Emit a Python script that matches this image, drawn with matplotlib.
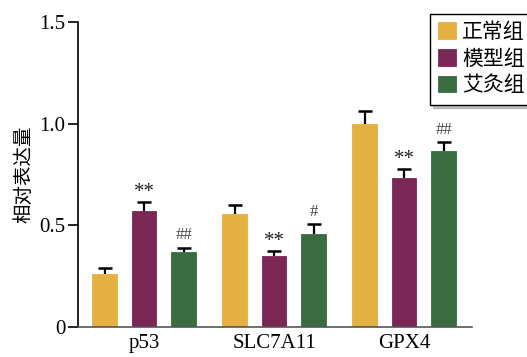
import matplotlib
matplotlib.use("Agg")
import matplotlib.pyplot as plt
import numpy as np

plt.rcParams['font.family'] = ['Liberation Serif', 'Noto Sans CJK SC']

genes = ["p53", "SLC7A11", "GPX4"]
groups = ["正常组", "模型组", "艾灸组"]
colors = ["#E4B042", "#7A2756", "#3A6C41"]
means = {
    "正常组": [0.262, 0.554, 0.999],
    "模型组": [0.569, 0.350, 0.735],
    "艾灸组": [0.370, 0.456, 0.868],
}
errors = {
    "正常组": [0.027, 0.046, 0.065],
    "模型组": [0.046, 0.025, 0.041],
    "艾灸组": [0.020, 0.049, 0.043],
}
marks = {
    "模型组": ["**", "**", "**"],
    "艾灸组": ["##", "#", "##"],
}
yticks = [0, 0.5, 1.0, 1.5]
ytick_labels = ["0", "0.5", "1.0", "1.5"]

fig = plt.figure(figsize=(5.27, 3.57), dpi=100)
ax = fig.add_axes([0.148, 0.085, 0.748, 0.852])

x = np.arange(len(genes))
offsets = [-0.304, 0.0, 0.304]
width = 0.188

handles = []
for g, off, c in zip(groups, offsets, colors):
    xs = x + off
    vals = np.array(means[g])
    errs = np.array(errors[g])
    b = ax.bar(xs, vals, width, color=c, edgecolor=c, linewidth=0.6, label=g, zorder=2)
    handles.append(b)
    # upper-only error bars: stem plus a single cap at the top
    ax.errorbar(xs, vals, yerr=[np.zeros_like(errs), errs], fmt="none",
                ecolor="black", elinewidth=1.6, capsize=0, zorder=3)
    ax.plot(xs, vals + errs, linestyle="none", marker="_", markersize=10,
            markeredgewidth=1.8, color="black", zorder=3)
    if g in marks:
        for xi, v, e, m in zip(xs, vals, errs, marks[g]):
            if m.startswith("*"):
                ax.annotate(m, (xi, v + e), xytext=(0, 0), textcoords="offset points",
                            ha="center", va="bottom", fontsize=15, color="#222222")
            else:
                ax.annotate(m, (xi, v + e), xytext=(0, 3), textcoords="offset points",
                            ha="center", va="bottom", fontsize=12, color="#444444")

ax.set_xlim(-0.508, 2.523)
ax.set_ylim(0, 1.5)
ax.set_xticks(x)
ax.set_xticklabels(genes, fontsize=15)
ax.tick_params(axis="x", length=0, pad=5)
ax.set_yticks(yticks)
ax.set_yticklabels(ytick_labels, fontsize=15)
ax.tick_params(axis="y", length=7, width=1.2, direction="out", pad=2)
ax.spines["top"].set_visible(False)
ax.spines["right"].set_visible(False)
ax.spines["left"].set_linewidth(1.2)
ax.spines["bottom"].set_linewidth(1.2)
ax.spines["bottom"].set_color("#555555")
ax.spines["left"].set_bounds(0, 1.5)
ax.set_ylabel("相对表达量", fontsize=14, labelpad=4)

leg = fig.legend(handles=handles, labels=groups, loc="upper left",
                 bbox_to_anchor=(430 / 527, 1 - 14 / 357),
                 fontsize=15, frameon=True, fancybox=False,
                 shadow={"ox": 2, "oy": -2, "color": "#888888"},
                 handlelength=0.85, handleheight=0.85, handletextpad=0.3,
                 labelspacing=0.3, borderpad=0.4, borderaxespad=0)
leg.get_frame().set_edgecolor("black")
leg.get_frame().set_linewidth(1.0)
leg.get_frame().set_alpha(1)

fig.savefig("out.png", dpi=100)
